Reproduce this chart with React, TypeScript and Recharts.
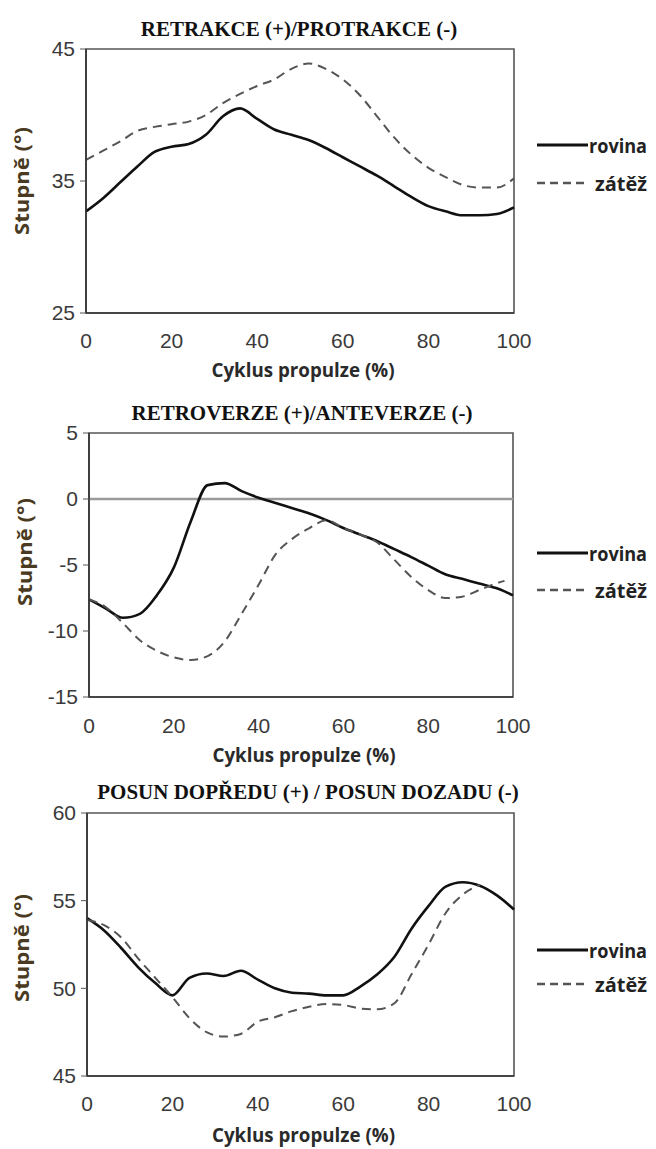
import React from 'react'
import { LineChart, Line, XAxis, YAxis, ReferenceArea, ReferenceLine } from 'recharts'

// osa x: cyklus propulze (%)
const cyklus = [0, 4, 8, 12, 16, 20, 24, 28, 32, 36, 40, 44, 48, 52, 56, 60, 64, 68, 72, 76, 80, 84, 88, 92, 96, 100]
const cyklus2 = [0, 4, 8, 12, 16, 20, 24, 28, 32, 36, 40, 44, 48, 52, 56, 60, 64, 68, 72, 76, 80, 84, 88, 92, 96, 98, 100]
const xTicks = [0, 20, 40, 60, 80, 100]

const nazvy = ['RETRAKCE (+)/PROTRAKCE (-)', 'RETROVERZE (+)/ANTEVERZE (-)', 'POSUN DOPŘEDU (+) / POSUN DOZADU (-)']
const serie = ['rovina', 'zátěž']

// retrakce / protrakce
const rovina1 = [32.7, 33.7, 34.9, 36.1, 37.2, 37.6, 37.8, 38.5, 39.9, 40.5, 39.7, 38.9, 38.5, 38.1, 37.5, 36.8, 36.1, 35.4, 34.6, 33.8, 33.1, 32.7, 32.4, 32.4, 32.5, 33.0]
const zatez1 = [36.6, 37.3, 38.0, 38.8, 39.1, 39.3, 39.5, 40.0, 40.9, 41.6, 42.2, 42.7, 43.5, 43.9, 43.5, 42.7, 41.5, 39.9, 38.3, 37.0, 36.0, 35.3, 34.7, 34.5, 34.5, 35.2]
const yTicks1 = [25, 35, 45]

// retroverze / anteverze
const rovina2 = [-7.6, -8.3, -9.0, -8.7, -7.3, -5.2, -1.7, 1.05, 1.2, 0.6, 0.1, -0.3, -0.7, -1.1, -1.6, -2.2, -2.7, -3.2, -3.8, -4.4, -5.05, -5.7, -6.05, -6.4, -6.75, -7.0, -7.3]
const zatez2 = [-7.6, -8.2, -9.4, -10.7, -11.5, -12.0, -12.2, -11.9, -10.8, -8.7, -6.5, -4.2, -3.0, -2.2, -1.6, -2.2, -2.7, -3.3, -4.6, -5.9, -6.9, -7.5, -7.4, -6.9, -6.4, -6.2, null]
const yTicks2 = [-15, -10, -5, 0, 5]

// posun dopředu / dozadu
const rovina3 = [54.0, 53.3, 52.3, 51.2, 50.3, 49.6, 50.6, 50.85, 50.7, 51.0, 50.5, 50.0, 49.75, 49.7, 49.6, 49.6, 50.1, 50.8, 51.8, 53.4, 54.7, 55.8, 56.05, 55.85, 55.3, 54.5]
const zatez3 = [53.9, 53.6, 52.9, 51.7, 50.6, 49.5, 48.3, 47.5, 47.25, 47.4, 48.1, 48.35, 48.7, 48.95, 49.1, 49.05, 48.85, 48.8, 49.15, 50.8, 52.5, 54.3, 55.35, 55.9, null, null]
const yTicks3 = [45, 50, 55, 60]

const SANS = '"Liberation Sans", Arial, sans-serif'
const LABEL = '"Open Sans", "Noto Sans", sans-serif'

interface GrafProps {
  top: number
  height: number
  title: string
  titleX: number
  titleY: number
  x: number[]
  rovina: (number | null)[]
  zatez: (number | null)[]
  yTicks: number[]
  plotTop: number
  plotBottom: number
  plotLeft: number
  plotRight: number
  tickGap: number
  xLabelY: number
  yLabelX: number
  yLabelY: number
  legendY: [number, number]
  zero?: boolean
}

function Graf(p: GrafProps) {
  const data = p.x.map((c, i) => ({ c, rovina: p.rovina[i], zatez: p.zatez[i] }))
  const yMin = p.yTicks[0]
  const yMax = p.yTicks[p.yTicks.length - 1]
  const xCenter = (p.plotLeft + p.plotRight) / 2

  return (
    <div style={{ position: 'absolute', left: 0, top: p.top, width: 656, height: p.height }}>
      <div
        style={{
          position: 'absolute', left: p.titleX, top: p.titleY, transform: 'translate(-50%, -50%)',
          font: 'bold 21px "Liberation Serif", "Times New Roman", serif', whiteSpace: 'nowrap', color: '#111',
        }}
      >
        {p.title}
      </div>
      <LineChart
        width={656}
        height={p.height}
        data={data}
        margin={{ top: p.plotTop, right: 656 - p.plotRight, bottom: p.height - p.plotBottom - 60, left: 0 }}
      >
        <ReferenceArea x1={0} x2={100} y1={yMin} y2={yMax} fill="none" stroke="#555" strokeWidth={1.6} ifOverflow="visible" />
        {p.zero && <ReferenceLine y={0} stroke="#9a9a9a" strokeWidth={2.5} />}
        <XAxis
          dataKey="c"
          type="number"
          domain={[0, 100]}
          ticks={xTicks}
          interval={0}
          height={60}
          tickLine={false}
          tickSize={0}
          tickMargin={p.tickGap}
          axisLine={{ stroke: '#333', strokeWidth: 1.6 }}
          tick={{ fill: '#3a3a3a', fontSize: 21, fontFamily: SANS }}
          label={{
            content: () => (
              <text
                x={xCenter + 3}
                y={p.xLabelY}
                textAnchor="middle"
                dominantBaseline="central"
                textLength={183}
                lengthAdjust="spacingAndGlyphs"
                style={{ fontFamily: LABEL, fontWeight: 700, fontSize: 19, fill: '#2a2a2a' }}
              >
                Cyklus propulze (%)
              </text>
            ),
          }}
        />
        <YAxis
          width={p.plotLeft}
          domain={[yMin, yMax]}
          ticks={p.yTicks}
          interval={0}
          tickSize={6}
          tickMargin={5}
          tickLine={{ stroke: '#555' }}
          axisLine={{ stroke: '#333', strokeWidth: 1.6 }}
          tick={{ fill: '#3a3a3a', fontSize: 21, fontFamily: SANS }}
          label={{
            content: () => (
              <text
                x={p.yLabelX}
                y={p.yLabelY}
                textAnchor="middle"
                dominantBaseline="central"
                textLength={108}
                lengthAdjust="spacingAndGlyphs"
                transform={`rotate(-90, ${p.yLabelX}, ${p.yLabelY})`}
                style={{ fontFamily: LABEL, fontWeight: 700, fontSize: 19, fill: '#4a3a22' }}
              >
                Stupně (°)
              </text>
            ),
          }}
        />
        <Line dataKey="rovina" type="monotone" stroke="#111" strokeWidth={2.6} dot={false} isAnimationActive={false} />
        <Line dataKey="zatez" type="monotone" stroke="#555" strokeWidth={2} strokeDasharray="9 6" dot={false} isAnimationActive={false} />
      </LineChart>
      {/* legenda vpravo od grafu */}
      <svg width={656} height={p.height} style={{ position: 'absolute', left: 0, top: 0, pointerEvents: 'none' }}>
        <line x1={537} x2={588} y1={p.legendY[0]} y2={p.legendY[0]} stroke="#111" strokeWidth={3} />
        <text
          x={589} y={p.legendY[0]} dominantBaseline="central" textLength={58} lengthAdjust="spacingAndGlyphs"
          style={{ fontFamily: LABEL, fontWeight: 700, fontSize: 20, fill: '#222' }}
        >
          {serie[0]}
        </text>
        <line x1={537} x2={588} y1={p.legendY[1]} y2={p.legendY[1]} stroke="#555" strokeWidth={2.5} strokeDasharray="8 5" />
        <text
          x={595} y={p.legendY[1]} dominantBaseline="central" textLength={52} lengthAdjust="spacingAndGlyphs"
          style={{ fontFamily: LABEL, fontWeight: 700, fontSize: 20, fill: '#222' }}
        >
          {serie[1]}
        </text>
      </svg>
    </div>
  )
}

export default function App() {
  return (
    <div style={{ position: 'absolute', left: 0, top: 0, width: 656, height: 1149, background: '#fff' }}>
      <Graf
        top={0} height={390} title={nazvy[0]} titleX={299} titleY={29}
        x={cyklus} rovina={rovina1} zatez={zatez1} yTicks={yTicks1}
        plotTop={49} plotBottom={313} plotLeft={86} plotRight={514}
        tickGap={20} xLabelY={370} yLabelX={22} yLabelY={181} legendY={[145, 183]}
      />
      <Graf
        top={385} height={390} title={nazvy[1]} titleX={302} titleY={28}
        x={cyklus2} rovina={rovina2} zatez={zatez2} yTicks={yTicks2}
        plotTop={48} plotBottom={312} plotLeft={89} plotRight={513}
        tickGap={21} xLabelY={370} yLabelX={25} yLabelY={167} legendY={[168, 205]} zero
      />
      <Graf
        top={770} height={379} title={nazvy[2]} titleX={308} titleY={22}
        x={cyklus} rovina={rovina3} zatez={zatez3} yTicks={yTicks3}
        plotTop={43} plotBottom={306} plotLeft={87} plotRight={514}
        tickGap={20} xLabelY={365} yLabelX={22} yLabelY={178} legendY={[180, 214]}
      />
    </div>
  )
}
